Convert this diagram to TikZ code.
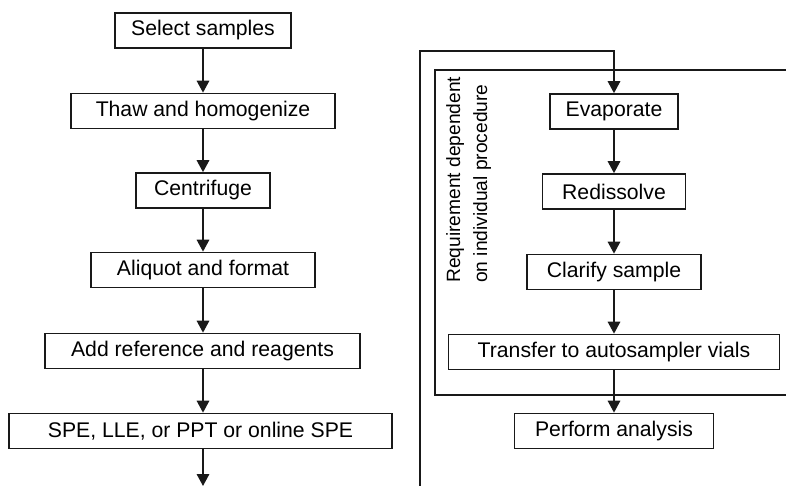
\documentclass[tikz,border=0pt]{standalone}
\usepackage{fontspec}
\setmainfont{Liberation Sans}
\usetikzlibrary{arrows.meta}
\begin{document}
\begin{tikzpicture}[x=1pt,y=-1pt,
  lw/.style={line width=1.7pt, draw=black!90},
  box/.style={lw, rectangle, minimum height=35pt, inner sep=0pt, font=\fontsize{21.2}{25}\selectfont},
  arr/.style={lw, -{Triangle[width=12.5pt,length=12pt]}}]
\useasboundingbox (0,0) rectangle (786,485);
% left column
\node[box, minimum width=176pt] (sel) at (203,30.5) {Select samples};
\node[box, minimum width=264pt] (thaw) at (203,111) {Thaw and homogenize};
\node[box, minimum width=134pt] (cen) at (203,190.5) {Centrifuge};
\node[box, minimum width=224pt] (ali) at (203,270) {Aliquot and format};
\node[box, minimum width=315pt] (add) at (202.5,351) {Add reference and reagents};
\node[box, minimum width=383pt] (spe) at (200.5,431) {SPE, LLE, or PPT or online SPE};
\coordinate (lend) at (203,486);
\draw[arr] (sel) -- (thaw);
\draw[arr] (thaw) -- (cen);
\draw[arr] (cen) -- (ali);
\draw[arr] (ali.south) -- (add.north -| ali.south);
\draw[arr] (add.south -| lend) -- (spe.north -| lend);
\draw[arr] (spe.south -| lend) -- (lend);
% right column
\node[box, minimum width=128pt] (eva) at (614,111.5) {Evaporate};
\node[box, minimum width=143pt] (red) at (614,191.5) {Redissolve};
\node[box, minimum width=174pt] (cla) at (614,272) {Clarify sample};
\node[box, minimum width=331pt] (tra) at (614,352) {Transfer to autosampler vials};
\node[box, minimum width=199pt] (per) at (614,431) {Perform analysis};
\draw[arr] (eva) -- (red);
\draw[arr] (red) -- (cla);
\draw[arr] (cla) -- (tra);
\draw[arr] (tra) -- (per);
% outer feed line
\coordinate (ob) at (420,486);
\coordinate (ot) at (420,51);
\coordinate (or) at (614,51);
\draw[arr] (ob) -- (ot) -- (or) -- (eva.north);
% inner frame open on the right
\coordinate (f1) at (787,70);
\coordinate (f2) at (435,70);
\coordinate (f3) at (435,395);
\coordinate (f4) at (787,395);
\draw[lw] (f1) -- (f2) -- (f3) -- (f4);
% rotated label
\node[rotate=90, anchor=north west, inner sep=0pt, align=left,
  font=\fontsize{19.2}{27}\selectfont] (req) at (446,283)
  {Requirement dependent\\on individual procedure};
\end{tikzpicture}
\end{document}
